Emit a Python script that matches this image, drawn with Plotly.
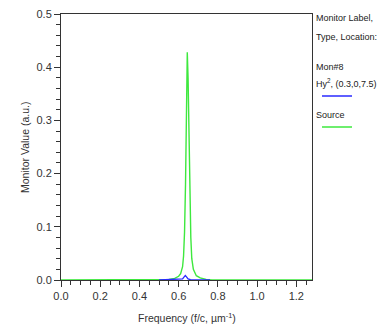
import plotly.graph_objects as go

# Source spectrum (green)
src_x = [0.0, 0.50, 0.55, 0.58, 0.60, 0.61, 0.62, 0.625, 0.63, 0.635, 0.64, 0.644,
         0.648, 0.652, 0.657, 0.662, 0.667, 0.675, 0.69, 0.71, 0.74, 0.77, 1.28]
src_y = [0.0, 0.0, 0.001, 0.003, 0.007, 0.012, 0.025, 0.045, 0.09, 0.18, 0.33, 0.428,
         0.38, 0.28, 0.16, 0.08, 0.04, 0.02, 0.008, 0.004, 0.001, 0.0, 0.0]

# Mon#8 Hy^2 (blue)
mon_x = [0.50, 0.60, 0.62, 0.628, 0.634, 0.64, 0.648, 0.66, 0.76]
mon_y = [0.0, 0.0005, 0.002, 0.006, 0.0085, 0.006, 0.002, 0.0005, 0.0]

x_range = [0.0, 1.28]
y_range = [0.0, 0.5]
x_ticks = [0.0, 0.2, 0.4, 0.6, 0.8, 1.0, 1.2]
y_ticks = [0.0, 0.1, 0.2, 0.3, 0.4, 0.5]

GREEN = "#3ee83e"
BLUE = "#2a2aff"
AXC = "#333333"
FONT = "Liberation Sans, Arial, sans-serif"

W, H = 381, 327
ML, MR, MT, MB = 61, 69, 14, 47

fig = go.Figure()
fig.add_trace(go.Scatter(x=src_x, y=src_y, mode="lines", line=dict(color=GREEN, width=1.4),
                         showlegend=False))
fig.add_trace(go.Scatter(x=mon_x, y=mon_y, mode="lines", line=dict(color=BLUE, width=1.3),
                         showlegend=False))

fig.update_layout(
    width=W, height=H,
    margin=dict(l=ML, r=MR, t=MT, b=MB, autoexpand=False),
    paper_bgcolor="white", plot_bgcolor="white",
    font=dict(family=FONT, color=AXC, size=11),
    xaxis=dict(range=x_range, tickvals=x_ticks, ticktext=[f"{v:.1f}" for v in x_ticks],
               ticks="outside", ticklen=6, tickcolor=AXC, showline=True, linecolor=AXC,
               linewidth=1, mirror=True, showgrid=False, zeroline=False, layer="below traces",
               automargin=False, tickfont=dict(size=11),
               minor=dict(dtick=0.05, ticks="outside", ticklen=4, tickcolor=AXC, showgrid=False)),
    yaxis=dict(range=y_range, tickvals=y_ticks, ticktext=[f"{v:.1f}" for v in y_ticks],
               ticks="outside", ticklen=6, tickcolor=AXC, showline=True, linecolor=AXC,
               linewidth=1, mirror=True, showgrid=False, zeroline=False, layer="below traces",
               automargin=False, tickfont=dict(size=11),
               minor=dict(dtick=0.02, ticks="outside", ticklen=4, tickcolor=AXC, showgrid=False)),
)

def px_x(p):
    return (p - ML) / (W - ML - MR)

def px_y(p):
    return 1 - (p - MT) / (H - MT - MB)

# axis titles
fig.add_annotation(text="Frequency (f/c, µm<sup>-1</sup>)", xref="paper", yref="paper",
                   x=px_x(187), y=px_y(317), xanchor="center", yanchor="middle",
                   showarrow=False, font=dict(size=10.5, color=AXC, family=FONT))
fig.add_annotation(text="Monitor Value (a.u.)", xref="paper", yref="paper",
                   x=px_x(25), y=px_y(148), xanchor="center", yanchor="middle", textangle=-90,
                   showarrow=False, font=dict(size=10.5, color=AXC, family=FONT))

legend_lines = [
    ("Monitor Label,", 18),
    ("Type, Location:", 37),
    ("Mon#8", 67),
    ("Hy<sup>2</sup>, (0.3,0,7.5)", 83),
    ("Source", 115),
]
for txt, ypx in legend_lines:
    fig.add_annotation(text=txt, xref="paper", yref="paper",
                       x=px_x(314), y=px_y(ypx),
                       xanchor="left", yanchor="middle", showarrow=False,
                       font=dict(size=9, color="#222222", family=FONT))

fig.add_shape(type="line", xref="paper", yref="paper", x0=px_x(322), x1=px_x(352),
              y0=px_y(96), y1=px_y(96), line=dict(color=BLUE, width=1.5))
fig.add_shape(type="line", xref="paper", yref="paper", x0=px_x(322), x1=px_x(352),
              y0=px_y(127), y1=px_y(127), line=dict(color=GREEN, width=1.5))

fig.write_html("out.html", config={"displayModeBar": False},
               post_script="document.body.style.margin='0';document.body.style.padding='0';document.body.style.overflow='hidden';")
